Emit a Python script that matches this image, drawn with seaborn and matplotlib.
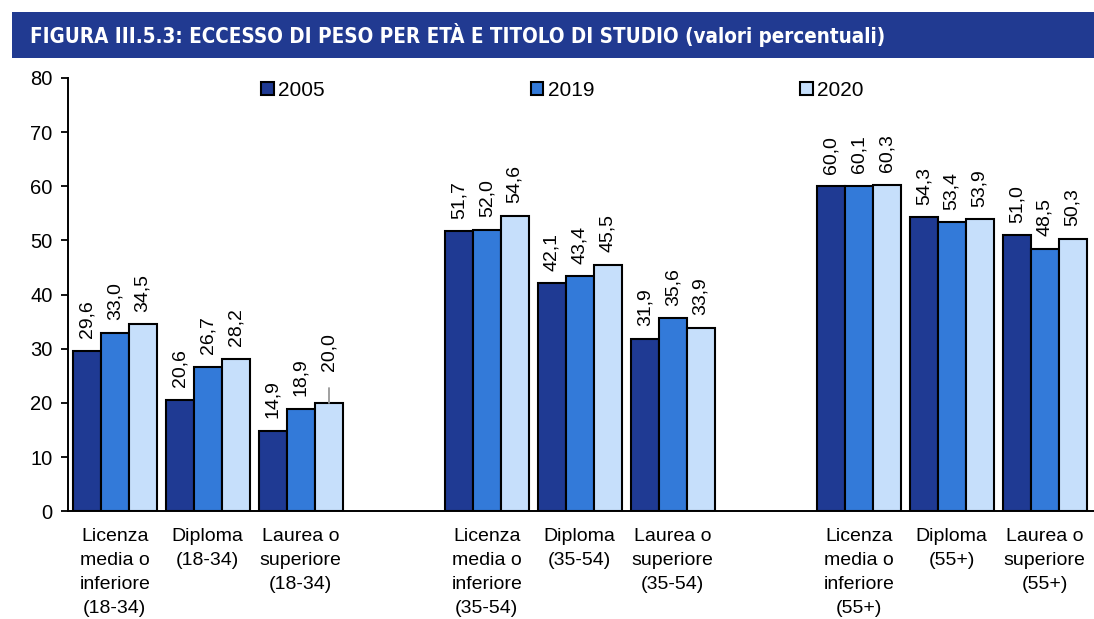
# -*- coding: utf-8 -*-
"""
Eccesso di peso per età e titolo di studio (valori percentuali)
"""
import matplotlib
matplotlib.use('Agg')
import matplotlib.pyplot as plt
import matplotlib.patches as mpatches
import pandas as pd
import seaborn as sns

# dati
categorie = [
    'Licenza\nmedia o\ninferiore\n(18-34)', 'Diploma\n(18-34)', 'Laurea o\nsuperiore\n(18-34)',
    'Licenza\nmedia o\ninferiore\n(35-54)', 'Diploma\n(35-54)', 'Laurea o\nsuperiore\n(35-54)',
    'Licenza\nmedia o\ninferiore\n(55+)', 'Diploma\n(55+)', 'Laurea o\nsuperiore\n(55+)',
]
anni = ['2005', '2019', '2020']
v2005 = [29.6, 20.6, 14.9, 51.7, 42.1, 31.9, 60.0, 54.3, 51.0]
v2019 = [33.0, 26.7, 18.9, 52.0, 43.4, 35.6, 60.1, 53.4, 48.5]
v2020 = [34.5, 28.2, 20.0, 54.6, 45.5, 33.9, 60.3, 53.9, 50.3]
colori = ['#1f3a93', '#337ad9', '#c6dffb']

# spazi vuoti tra le fasce d'età
ordine = categorie[:3] + [' '] + categorie[3:6] + ['  '] + categorie[6:]

df = pd.DataFrame({
    'categoria': categorie * 3,
    'anno': [a for a in anni for _ in categorie],
    'valore': v2005 + v2019 + v2020,
})

sns.set_style('white')
plt.rcParams['font.family'] = ['Liberation Sans', 'DejaVu Sans']
plt.rcParams['text.color'] = 'black'
plt.rcParams['xtick.color'] = 'black'
plt.rcParams['ytick.color'] = 'black'

fig = plt.figure(figsize=(10.94, 6.19), dpi=100)
ax = fig.add_axes([0.062, 0.174, 0.938, 0.700])

sns.barplot(data=df, x='categoria', y='valore', hue='anno', order=ordine,
            hue_order=anni, palette=colori, width=0.9, edgecolor='black',
            linewidth=1.5, saturation=1, errorbar=None, legend=False, ax=ax)

# etichette dei valori
for cont in ax.containers:
    for rect in cont:
        h = rect.get_height()
        if h != h or h == 0:
            continue
        x = rect.get_x() + rect.get_width() / 2
        off = 9
        if abs(h - 20.0) < 0.01:
            off = 23
            ax.plot([x, x], [h, h + 2.8], color='#999999', lw=1.3, clip_on=False)
        ax.annotate(f'{h:.1f}'.replace('.', ','), (x, h), xytext=(0, off),
                    textcoords='offset points', rotation=90, ha='center',
                    va='bottom', fontsize=14)

ax.set_ylim(0, 80)
ax.set_xlim(-0.505, 10.53)
ax.set_yticks(range(0, 81, 10))
ax.set_xlabel('')
ax.set_ylabel('')
ax.tick_params(axis='y', labelsize=14.5, length=5, width=1.3, left=True, direction='out', pad=6)
ax.tick_params(axis='x', labelsize=14, length=0, pad=12)
for lab in ax.get_xticklabels():
    lab.set_linespacing(1.55)
sns.despine(ax=ax, top=True, right=True)
for s in ['left', 'bottom']:
    ax.spines[s].set_color('black')
    ax.spines[s].set_linewidth(1.4)

# legenda
handles = [mpatches.Patch(facecolor=c, edgecolor='black', linewidth=1.5) for c in colori]
ax.legend(handles, anni, ncol=3, loc='upper center', bbox_to_anchor=(0.482, 1.037),
          frameon=False, fontsize=15, handlelength=0.6, handleheight=0.6,
          handletextpad=0.2, columnspacing=9.9)

# titolo su banda blu
fig.patches.append(mpatches.Rectangle((0.011, 0.906), 0.989, 0.074, transform=fig.transFigure,
                                      facecolor='#213a91', edgecolor='none'))
fig.text(0.027, 0.943, 'FIGURA III.5.3: ECCESSO DI PESO PER ETÀ E TITOLO DI STUDIO (valori percentuali)',
         color='white', fontsize=14.8, fontweight='bold', fontstretch='condensed',
         family=['DejaVu Sans'], va='center', ha='left')

fig.savefig('out.png', dpi=100)
